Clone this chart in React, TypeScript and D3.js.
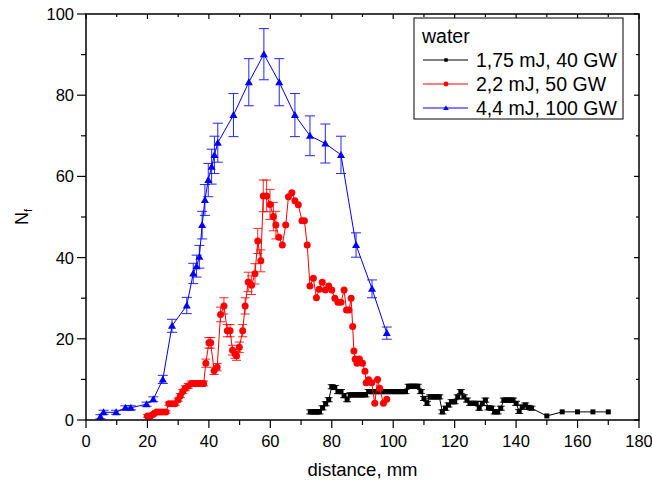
import React from "react";
import * as d3 from "d3";

const blueX = [4.7, 5.7, 9.8, 12.8, 14.6, 19.7, 21.9, 25, 28, 32.8, 34.9, 36, 36.9, 37.8, 38.7, 39.8, 40.9, 41.8, 42.9, 48, 53, 57.9, 62.9, 68, 72.9, 77.9, 83, 87.9, 93.1, 97.9];
const blueY = [0.8, 1.9, 1.9, 3, 3, 3.9, 5.1, 10, 23.2, 28.2, 36.1, 37.9, 40.2, 48, 54.2, 59.1, 62.4, 65.3, 68.3, 75.1, 83.2, 90.1, 83.2, 75.1, 70, 68.1, 65.3, 43.1, 32.3, 21.4];
const blueErr = [0.5, 0.5, 0.5, 0.5, 0.5, 0.5, 0.6, 1, 1.6, 2, 2.5, 2.7, 2.8, 3.4, 3.8, 4.1, 4.3, 4.6, 4.8, 5.3, 5.8, 6.3, 5.8, 5.3, 4.9, 4.8, 4.6, 3, 2.2, 1.5];

const redX = [20, 21, 22, 23, 24, 25, 26, 27, 28, 29, 30, 30.7, 31.5, 32.3, 33.3, 34.3, 35.3, 36.5, 37.5, 38.3, 39, 40, 40.6, 41.7, 42.7, 43.8, 44.9, 46, 46.9, 47.7, 48.5, 49, 49.9, 51, 51.8, 52.8, 53.9, 55, 55.9, 56.9, 57.7, 58.8, 59.9, 61, 61.8, 62.8, 63.9, 65, 65.9, 67, 68, 69.1, 70.3, 71.1, 72, 72.9, 74, 75, 75.9, 76.9, 77.9, 79, 80, 81, 82, 83, 84, 84.8, 85.6, 86.3, 86.8, 87.2, 87.6, 88.2, 89, 90, 90.8, 91.2, 92, 93, 94, 94.9, 95.6, 96.8, 97.9];
const redY = [1, 1, 1.5, 2, 2, 2, 2, 4, 4, 4, 5, 6, 7, 7.8, 8.4, 9, 9, 9, 9, 9, 14, 19, 19, 12.1, 13, 26, 28.1, 22, 22, 17.2, 16.3, 15.8, 17.9, 22, 28.1, 34, 33.2, 36, 44.1, 39.2, 55.2, 55.2, 53.1, 50.1, 48, 45, 43.1, 48, 55, 56, 54, 53, 49.1, 49.1, 43.1, 33, 34.9, 30.1, 32.2, 33.9, 32, 33, 32, 30, 29, 29, 32, 27.1, 27.1, 30, 23, 17, 15, 14, 15, 14, 12, 9.2, 9.9, 9.2, 4.1, 10, 7.8, 4.1, 5.1];
const redErr = [0.3, 0.3, 0.3, 0.3, 0.3, 0.3, 0.3, 0.4, 0.4, 0.4, 0.4, 0.5, 0.5, 0.6, 0.6, 0.6, 0.6, 0.6, 0.6, 0.6, 1, 1.3, 1.3, 0.9, 0.9, 1.8, 2, 1.5, 1.5, 1.2, 1.1, 1.1, 1.3, 1.5, 2, 2.4, 2.3, 2.5, 3.1, 2.7, 3.9, 3.9, 3.7, 3.5, 3.4, 0, 0, 0, 0, 0, 0, 0, 0, 0, 0, 0, 0, 0, 0, 0, 0, 0, 0, 0, 0, 0, 0, 0, 0, 0, 0, 0, 0, 0, 0, 0, 0, 0, 0, 0, 0, 0, 0, 0, 0];

const blackX = [73, 74, 75, 76, 77, 78, 79, 80, 81, 82, 83, 84, 85, 86, 87, 88, 89, 90, 91, 92, 93, 94, 95, 96, 97, 98, 99, 100, 101, 102, 103, 104, 105, 106, 107, 108, 109, 110, 111, 112, 113, 114, 115, 116, 117, 118, 119, 120, 121, 122, 123, 124, 125, 126, 127, 128, 129, 130, 131, 132, 133, 134, 135, 136, 137, 138, 139, 140, 141, 142, 143, 144, 145, 150, 155, 160, 165, 170];
const blackY = [2, 2, 2, 2, 3, 4, 5, 8.2, 8, 7, 7, 6, 5, 6.2, 6.2, 6.2, 6.2, 6.2, 6.2, 7, 7, 7, 7, 7, 7, 7, 7, 7, 7, 7, 7, 7, 8.3, 8.3, 8.3, 8.3, 7, 5.3, 4.1, 5.7, 5.7, 5.7, 5.7, 2, 2.9, 3.7, 4.5, 4.5, 5.7, 7, 5.7, 4.9, 4.1, 4.1, 4.1, 2.9, 4.1, 4.9, 3, 2.9, 2, 2, 2.9, 4.9, 4.9, 4.9, 4.9, 4.1, 2.1, 3.2, 3.7, 3.1, 2.9, 1, 2, 2, 2, 2];
const blackErr = [0.5, 0.5, 0.5, 0.5, 0.5, 0.5, 0.5, 0.5, 0.5, 0.5, 0.5, 0.5, 0.5, 0.5, 0.5, 0.5, 0.5, 0.5, 0.5, 0.5, 0.5, 0.5, 0.5, 0.5, 0.5, 0.5, 0.5, 0.5, 0.5, 0.5, 0.5, 0.5, 0.5, 0.5, 0.5, 0.5, 0.5, 0.5, 0.5, 0.5, 0.5, 0.5, 0.5, 0.5, 0.5, 0.5, 0.5, 0.5, 0.5, 0.5, 0.5, 0.5, 0.5, 0.5, 0.5, 0.5, 0.5, 0.5, 0.5, 0.5, 0.5, 0.5, 0.5, 0.5, 0.5, 0.5, 0.5, 0.5, 0.5, 0.5, 0.5, 0.5, 0.5, 0, 0, 0, 0, 0];

const xTicks = [0, 20, 40, 60, 80, 100, 120, 140, 160, 180];
const yTicks = [0, 20, 40, 60, 80, 100];
const legendTitle = "water";
const seriesNames = ["1,75 mJ, 40 GW", "2,2 mJ, 50 GW", "4,4 mJ, 100 GW"];

const W = 652, H = 486;
const L = 86, R = 639, T = 14, B = 420;
const FONT = "Arial, 'Liberation Sans', sans-serif";

export default function App() {
  const x = d3.scaleLinear().domain([0, 180]).range([L, R]);
  const y = d3.scaleLinear().domain([0, 100]).range([B, T]);
  const line = d3.line<[number, number]>().x(d => x(d[0])).y(d => y(d[1]));

  const series = [
    { xs: blackX, ys: blackY, es: blackErr, color: "#000000", marker: "square", cap: 4 },
    { xs: redX, ys: redY, es: redErr, color: "#ff0000", marker: "circle", cap: 4.5 },
    { xs: blueX, ys: blueY, es: blueErr, color: "#0000ff", marker: "triangle", cap: 5 },
  ];

  const marker = (kind: string, cx: number, cy: number, color: string, key: any, s = 1) => {
    if (kind === "square") return <rect key={key} x={cx - 2.5 * s} y={cy - 2.5 * s} width={5 * s} height={5 * s} fill={color} />;
    if (kind === "circle") return <circle key={key} cx={cx} cy={cy} r={3.5 * s} fill={color} />;
    const r = 4 * s;
    return <path key={key} d={`M${cx},${cy - r}L${cx + r},${cy + r * 0.75}L${cx - r},${cy + r * 0.75}Z`} fill={color} />;
  };

  const minorX = d3.range(0, 181, 10);
  const minorY = d3.range(0, 101, 10);

  return (
    <svg width={W} height={H} style={{ position: "absolute", left: 0, top: 0, background: "#fff" }} fontFamily={FONT}>
      <rect x={0} y={0} width={W} height={H} fill="#fff" />
      {series.map((s, si) => {
        const pts: [number, number][] = s.xs.map((v, i) => [v, s.ys[i]]);
        return (
          <g key={si}>
            <path d={line(pts) || ""} fill="none" stroke={s.color} strokeWidth={1} />
            {pts.map((p, i) => s.es[i] > 0 ? (
              <g key={"e" + i} stroke={s.color} strokeWidth={1} opacity={0.85}>
                <line x1={x(p[0])} x2={x(p[0])} y1={y(p[1] - s.es[i])} y2={y(p[1] + s.es[i])} />
                <line x1={x(p[0]) - s.cap} x2={x(p[0]) + s.cap} y1={y(p[1] + s.es[i])} y2={y(p[1] + s.es[i])} />
                <line x1={x(p[0]) - s.cap} x2={x(p[0]) + s.cap} y1={y(p[1] - s.es[i])} y2={y(p[1] - s.es[i])} />
              </g>
            ) : null)}
            {pts.map((p, i) => marker(s.marker, x(p[0]), y(p[1]), s.color, "m" + i))}
          </g>
        );
      })}
      <rect x={L} y={T} width={R - L} height={B - T} fill="none" stroke="#000" strokeWidth={1.5} />
      {minorX.map(v => (
        <line key={"bx" + v} x1={x(v)} x2={x(v)} y1={B} y2={B + (v % 20 === 0 ? 8 : 5)} stroke="#000" strokeWidth={1.2} />
      ))}
      {minorX.map(v => (
        <line key={"tx" + v} x1={x(v)} x2={x(v)} y1={T} y2={T + (v % 20 === 0 ? 5 : 3)} stroke="#000" strokeWidth={1.2} />
      ))}
      {minorY.map(v => (
        <line key={"ly" + v} x1={L} x2={L - (v % 20 === 0 ? 9 : 5)} y1={y(v)} y2={y(v)} stroke="#000" strokeWidth={1.2} />
      ))}
      {minorY.map(v => (
        <line key={"ry" + v} x1={R} x2={R - (v % 20 === 0 ? 5 : 3)} y1={y(v)} y2={y(v)} stroke="#000" strokeWidth={1.2} />
      ))}
      {xTicks.map(v => (
        <text key={"xl" + v} x={x(v)} y={447} textAnchor="middle" fontSize={16.5} fill="#000">{v}</text>
      ))}
      {yTicks.map(v => (
        <text key={"yl" + v} x={74} y={y(v) + 6} textAnchor="end" fontSize={16.5} fill="#000">{v}</text>
      ))}
      <text x={(L + R) / 2} y={476} textAnchor="middle" fontSize={18.5} fill="#000">distance, mm</text>
      <text transform={`translate(28,${(T + B) / 2}) rotate(-90)`} textAnchor="middle" fontSize={18} fill="#000">
        N<tspan fontSize={11} dy={4}>f</tspan>
      </text>
      <rect x={414} y={18} width={209} height={101} fill="#fff" stroke="#000" strokeWidth={1} />
      <text x={422} y={43} fontSize={19.5} fill="#000">{legendTitle}</text>
      {series.map((s, i) => {
        const ly = 60 + i * 24;
        return (
          <g key={"lg" + i}>
            <line x1={423} x2={468} y1={ly} y2={ly} stroke={s.color} strokeWidth={1} />
            {marker(s.marker, 446, ly, s.color, "lm" + i, 0.7)}
            <text x={476} y={ly + 7} fontSize={19.5} fill="#000">{seriesNames[i]}</text>
          </g>
        );
      })}
    </svg>
  );
}
